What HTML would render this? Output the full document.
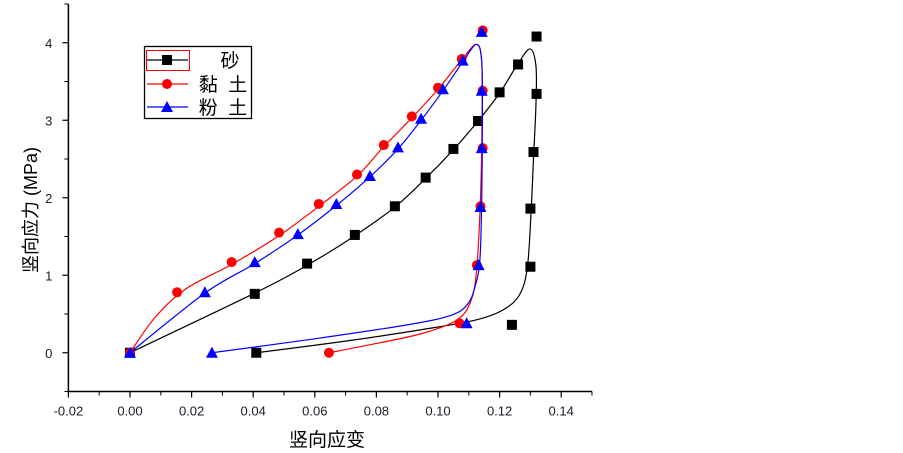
<!DOCTYPE html>
<html><head><meta charset="utf-8">
<style>
html,body{margin:0;padding:0;background:#fff;}
svg{display:block;font-family:"Liberation Sans","Noto Sans CJK SC",sans-serif;}
</style></head>
<body>
<svg id="chart" width="903" height="453" viewBox="0 0 903 453"></svg>
<script>
// ---- data ----
const xTicks = [-0.02, 0.00, 0.02, 0.04, 0.06, 0.08, 0.10, 0.12, 0.14];
const xTickLabels = ["-0.02","0.00","0.02","0.04","0.06","0.08","0.10","0.12","0.14"];
const yTicks = [0, 1, 2, 3, 4];
const yTickLabels = ["0","1","2","3","4"];
const seriesNames = ["砂", "黏  土", "粉  土"];

const sandX = [0, 0.0405, 0.0575, 0.073, 0.086, 0.096, 0.105, 0.113, 0.120, 0.126, 0.132, 0.132, 0.131, 0.130, 0.130, 0.124, 0.041];
const sandY = [0, 0.76, 1.15, 1.52, 1.89, 2.26, 2.63, 2.99, 3.36, 3.72, 4.08, 3.34, 2.59, 1.86, 1.11, 0.36, 0];
const clayX = [0, 0.0153, 0.033, 0.0484, 0.0613, 0.0737, 0.0824, 0.0915, 0.100, 0.1077, 0.1145, 0.1145, 0.1145, 0.1138, 0.1126, 0.107, 0.0646];
const clayY = [0, 0.78, 1.17, 1.55, 1.92, 2.30, 2.68, 3.05, 3.42, 3.79, 4.16, 3.38, 2.64, 1.89, 1.13, 0.38, 0];
const siltX = [0, 0.0243, 0.0405, 0.0545, 0.067, 0.0779, 0.087, 0.0945, 0.1016, 0.108, 0.1142, 0.1142, 0.1142, 0.1138, 0.1132, 0.1093, 0.0266];
const siltY = [0, 0.78, 1.17, 1.53, 1.92, 2.28, 2.65, 3.02, 3.40, 3.77, 4.14, 3.38, 2.64, 1.88, 1.13, 0.38, 0];

// fitted curves
const sandFitX = [0, 0.040, 0.058, 0.073, 0.086, 0.096, 0.105, 0.113, 0.120, 0.1255, 0.1298, 0.1318, 0.1318, 0.1310, 0.1302, 0.1290, 0.1265, 0.121, 0.112, 0.095, 0.070, 0.041];
const sandFitY = [0, 0.76, 1.14, 1.51, 1.88, 2.25, 2.62, 2.99, 3.35, 3.70, 3.92, 3.70, 3.20, 2.50, 1.80, 1.10, 0.75, 0.55, 0.42, 0.30, 0.15, 0];
const clayFitX = [0, 0.008, 0.018, 0.033, 0.048, 0.061, 0.0737, 0.0824, 0.0915, 0.100, 0.1077, 0.1125, 0.1142, 0.1143, 0.1138, 0.1125, 0.1105, 0.106, 0.095, 0.080, 0.0646];
const clayFitY = [0, 0.45, 0.82, 1.14, 1.50, 1.88, 2.28, 2.66, 3.03, 3.40, 3.78, 3.98, 3.75, 3.00, 2.00, 1.05, 0.65, 0.42, 0.25, 0.12, 0];
const siltFitX = [0, 0.0243, 0.0405, 0.0545, 0.067, 0.0779, 0.087, 0.0945, 0.1016, 0.108, 0.1125, 0.1142, 0.1144, 0.1142, 0.1136, 0.1120, 0.1095, 0.104, 0.090, 0.060, 0.0266];
const siltFitY = [0, 0.77, 1.15, 1.52, 1.90, 2.27, 2.63, 3.00, 3.38, 3.75, 3.98, 3.75, 3.00, 2.00, 1.20, 0.85, 0.62, 0.48, 0.36, 0.18, 0];

// ---- axes ----
const X0 = 68.4, X1 = 592, Y0 = 391.5, Y1 = 4;
const xMin = -0.02, xMax = 0.15, yMin = -0.5, yMax = 4.5;
const sx = v => X0 + (v - xMin) / (xMax - xMin) * (X1 - X0);
const sy = v => Y0 - (v - yMin) / (yMax - yMin) * (Y0 - Y1);

const svg = document.getElementById('chart');
const NS = 'http://www.w3.org/2000/svg';
function mk(tag, attrs, parent) {
  const e = document.createElementNS(NS, tag);
  for (const k in attrs) e.setAttribute(k, attrs[k]);
  (parent || svg).appendChild(e);
  return e;
}

const axes = mk('g', {});


const xAxis = mk('line', {x1: X0, y1: Y0, x2: X1, y2: Y0, stroke: '#000', 'stroke-width': 1.5}, axes);


const yAxis = mk('line', {x1: X0, y1: Y0, x2: X0, y2: Y1, stroke: '#000', 'stroke-width': 1.5}, axes);



xTicks.forEach((v, i) => {
  const x = sx(v);
  mk('line', {x1: x, y1: Y0, x2: x, y2: Y0 + 6, stroke: '#000', 'stroke-width': 1.2}, axes);
  const t = mk('text', {x: x, y: Y0 + 24, 'text-anchor': 'middle', 'font-size': 13, fill: '#1a1a2a'}, axes);
  t.textContent = xTickLabels[i];
  
  
  const m = sx(v + 0.01);
  if (v + 0.01 <= xMax + 1e-9) mk('line', {x1: m, y1: Y0, x2: m, y2: Y0 + 4, stroke: '#000', 'stroke-width': 1}, axes);
});
yTicks.forEach((v, i) => {
  const y = sy(v);
  mk('line', {x1: X0, y1: y, x2: X0 - 6, y2: y, stroke: '#000', 'stroke-width': 1.2}, axes);
  const t = mk('text', {x: X0 - 16, y: y + 5, 'text-anchor': 'end', 'font-size': 13, fill: '#1a1a2a'}, axes);
  t.textContent = yTickLabels[i];
  
  
  [-0.5, 0.5].forEach(d => {
    const mv = v + d;
    if (mv >= yMin - 1e-9 && mv <= yMax) {
      const my = sy(mv);
      mk('line', {x1: X0, y1: my, x2: X0 - 4, y2: my, stroke: '#000', 'stroke-width': 1}, axes);
    }
  });
});

const xt = mk('text', {x: 327, y: 446, 'text-anchor': 'middle', 'font-size': 19, fill: '#000'});
xt.textContent = '竖向应变';


const yt = mk('text', {x: 0, y: 0, 'text-anchor': 'middle', 'font-size': 18, fill: '#000', transform: 'translate(37,210) rotate(-90)'});
yt.textContent = '竖向应力 (MPa)';



// ---- curves ----
function smoothPath(xs, ys) {
  const p = xs.map((v, i) => [sx(v), sy(ys[i])]);
  let d = 'M' + p[0][0] + ',' + p[0][1];
  for (let i = 0; i < p.length - 1; i++) {
    const a = p[Math.max(0, i - 1)], b = p[i], c = p[i + 1], e = p[Math.min(p.length - 1, i + 2)];
    const c1 = [b[0] + (c[0] - a[0]) / 6, b[1] + (c[1] - a[1]) / 6];
    const c2 = [c[0] - (e[0] - b[0]) / 6, c[1] - (e[1] - b[1]) / 6];
    d += 'C' + c1[0] + ',' + c1[1] + ' ' + c2[0] + ',' + c2[1] + ' ' + c[0] + ',' + c[1];
  }
  return d;
}
function marker(shape, x, y, color, parent) {
  if (shape === 'square') return mk('rect', {x: x - 5, y: y - 5, width: 10, height: 10, fill: color}, parent);
  if (shape === 'circle') return mk('circle', {cx: x, cy: y, r: 5, fill: color}, parent);
  return mk('polygon', {points: (x) + ',' + (y - 6) + ' ' + (x - 6) + ',' + (y + 5) + ' ' + (x + 6) + ',' + (y + 5), fill: color}, parent);
}
const series = [
  {name: 'sand', color: '#000', shape: 'square', xs: sandX, ys: sandY, fx: sandFitX, fy: sandFitY},
  {name: 'clay', color: '#f00', shape: 'circle', xs: clayX, ys: clayY, fx: clayFitX, fy: clayFitY},
  {name: 'silt', color: '#00f', shape: 'triangle', xs: siltX, ys: siltY, fx: siltFitX, fy: siltFitY}
];
series.forEach(s => {
  const g = mk('g', {});
  
  
  const path = mk('path', {d: smoothPath(s.fx, s.fy), fill: 'none', stroke: s.color, 'stroke-width': 1.2}, g);
  
  
  s.xs.forEach((v, i) => {
    const m = marker(s.shape, sx(v), sy(s.ys[i]), s.color, g);
    
    
  });
});

// ---- legend ----
const lg = mk('g', {});


mk('rect', {x: 144.5, y: 46.5, width: 107, height: 72, fill: '#fff', stroke: '#000', 'stroke-width': 1.3}, lg);
mk('rect', {x: 146.5, y: 50.5, width: 43, height: 20, fill: 'none', stroke: '#f00', 'stroke-width': 1}, lg);
const legY = [60, 84, 107];
const legTextX = [230, 223, 223];
series.forEach((s, i) => {
  const e = mk('g', {}, lg);
  
  
  mk('line', {x1: 147, y1: legY[i], x2: 188, y2: legY[i], stroke: s.color, 'stroke-width': 1.2}, e);
  marker(s.shape, 167, legY[i], s.color, e);
  const t = mk('text', {x: legTextX[i], y: legY[i] + 7, 'text-anchor': 'middle', 'font-size': 19, fill: '#000', 'xml:space': 'preserve'}, e);
  t.style.whiteSpace = 'pre';
  t.textContent = seriesNames[i];
});
</script>
</body></html>
